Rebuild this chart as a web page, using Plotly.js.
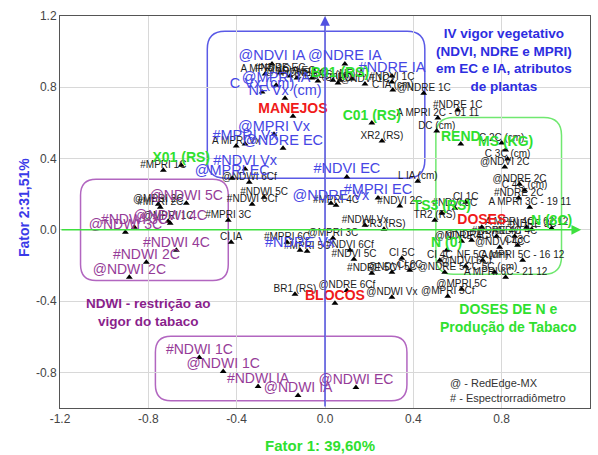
<!DOCTYPE html>
<html>
<head>
<meta charset="utf-8">
<script src="https://cdn.plot.ly/plotly-3.0.1.min.js"></script>
<style>
  html, body { margin: 0; padding: 0; background: #ffffff; }
  #chart { width: 598px; height: 455px; }
</style>
</head>
<body>
<div id="chart"></div>
<script>
// Factor loadings (Fator 1 x Fator 2) for the measured variables.
// Black labels: plant attributes and sensor indices.
const blackLabels = [
  "#MPRI 1C", "A MPRI Vx", "@MPRI 2C", "#MPRI 2C", "@MPRI 1C", "#MPRI 3C", "CI IA",
  "@NDWI 6Cf", "#NDWI 5C", "#NDWI 6Cf",
  "A MPRI 1C", "#NDRE EC", "@NDVI EC", "#NDVI IA", "NF EC", "C EC (cm)", "L EC (cm)",
  "CI EC", "NF IA", "@NDVI 1C", "#NDVI 1C", "C IA (cm)",
  "@NDRE 1C", "#NDRE 1C", "A MPRI 2C - 01 11", "DC (cm)", "XR2 (RS)", "L IA (cm)",
  "C 2C (cm)", "C 3C (cm)", "@NDVI 2C", "@NDRE 2C", "C 4C (cm)", "#NDRE 2C", "CI 1C",
  "A MPRI 3C - 19 11", "#NDVI 3C", "TR2 (RS)", "A MPRI 4C - 02 12", "NF 5C (cm)",
  "A MPRI 5C - 16 12", "A MPRI 6C - 21 12", "@NDRE 4C", "#NDRE 4C", "#NDVI 4C",
  "@NDVI 4C", "C 5C (cm)", "@NDRE 3C", "#NDRE 3C", "CI 3C",
  "#MPRI 6C", "#MPRI 5C", "@MPRI 3C", "#NDVI 6Cf", "#NDVI 5C", "CI 5C", "CI 4C",
  "#NDRE 5C", "@NDVI 5C", "CI 6C", "@NDRE 5C", "@NDVI 6Cf", "@MPRI 5C", "@MPRI 5Cf",
  "@NDWI Vx", "BR1 (RS)", "@NDRE 6Cf", "#NDWI Vx", "CR3 (RS)", "#MPRI 4C", "#NDVI 2C"
];
const blackX = [
  -0.732, -0.402, -0.755, -0.746, -0.710, -0.438, -0.425,
  -0.343, -0.276, -0.330,
  -0.271, -0.203, -0.158, -0.127, -0.059, -0.032, 0.036,
  0.059, 0.122, 0.181, 0.303, 0.307,
  0.447, 0.601, 0.511, 0.506, 0.258, 0.420,
  0.800, 0.827, 0.814, 0.881, 0.904, 0.877, 0.637,
  0.927, 0.588, 0.497, 0.913, 0.714,
  0.895, 0.818, 0.619, 0.777, 0.859,
  0.791, 0.768, 0.664, 0.936, 0.872,
  -0.172, -0.081, 0.036, 0.113, 0.131, 0.348, 0.520,
  0.212, 0.303, 0.384, 0.542, 0.637, 0.619, 0.556,
  0.303, -0.136, 0.099, 0.181, 0.267, 0.050, 0.339
];
const blackY = [
  0.335, 0.470, 0.144, 0.127, 0.048, 0.054, -0.070,
  0.267, 0.183, 0.144,
  0.874, 0.880, 0.863, 0.852, 0.852, 0.835, 0.840,
  0.824, 0.846, 0.818, 0.829, 0.784,
  0.767, 0.672, 0.627, 0.554, 0.498, 0.273,
  0.487, 0.397, 0.352, 0.256, 0.222, 0.178, 0.155,
  0.127, 0.121, 0.054, 0.015, -0.171,
  -0.171, -0.266, -0.064, -0.036, -0.036,
  -0.098, -0.238, -0.058, 0.003, -0.087,
  -0.070, -0.120, -0.047, -0.115, -0.165, -0.160, -0.171,
  -0.244, -0.238, -0.227, -0.238, -0.204, -0.334, -0.373,
  -0.379, -0.362, -0.340, 0.026, 0.003, 0.138, 0.133
];

// Vegetative vigour indices (blue group)
const blueLabels = [
  "@NDVI IA", "@NDRE IA", "#NDRE IA", "@MPRI IA", "C Vx (cm)", "NF Vx (cm)",
  "@MPRI Vx", "#MPRI Vx", "@NDRE EC", "#NDVI Vx", "@MPRI EC",
  "#NDVI EC", "#MPRI EC", "@NDRE Vx", "#NDRE Vx"
];
const blueX = [
  -0.240, 0.090, 0.303, -0.221, -0.285, -0.181,
  -0.231, -0.362, -0.190, -0.362, -0.420,
  0.099, 0.240, 0.027, -0.113
];
const blueY = [
  0.930, 0.930, 0.863, 0.812, 0.773, 0.739,
  0.537, 0.481, 0.458, 0.341, 0.290,
  0.296, 0.178, 0.149, -0.115
];

// NDWI group (purple)
const purpleLabels = [
  "@NDWI 2C", "#NDWI 2C", "#NDWI 4C", "@NDWI 3C", "#NDWI 3C", "@NDWI 4C", "@NDWI 5C",
  "#NDWI 1C", "@NDWI 1C", "#NDWI IA", "@NDWI IA", "@NDWI EC"
];
const purpleX = [
  -0.886, -0.809, -0.673, -0.904, -0.863, -0.701, -0.628,
  -0.569, -0.461, -0.303, -0.122, 0.140
];
const purpleY = [
  -0.266, -0.182, -0.115, -0.013, 0.015, 0.037, 0.149,
  -0.717, -0.795, -0.880, -0.930, -0.885
];

// Experimental factors (red)
const redLabels = ["MANEJOS", "BLOCOS", "DOSES"];
const redX = [-0.145, 0.045, 0.710];
const redY = [0.638, -0.412, 0.015];

// Yield and supplementary variables (green)
const greenLabels = ["C01 (RS)", "X01 (RS)", "B01 (RS)", "REND", "MS (KG)", "TS3 (RS)", "N (0)", "N (8C)"];
const greenX = [0.212, -0.651, 0.068, 0.615, 0.818, 0.529, 0.551, 1.026];
const greenY = [0.599, 0.363, 0.840, 0.481, 0.448, 0.094, -0.115, 0.009];

// Axis ticks
const xTickVals = [-1.2, -0.8, -0.4, 0, 0.4, 0.8, 1.2];
const xTickText = ["-1.2", "-0.8", "-0.4", "0.0", "0.4", "0.8", "1.2"];
const yTickVals = [-0.8, -0.4, 0, 0.4, 0.8, 1.2];
const yTickText = ["-0.8", "-0.4", "0.0", "0.4", "0.8", "1.2"];

const FONT = "Liberation Sans, Arial, sans-serif";
const BLUE = "#4646e4";
const PURPLE = "#963c98";
const GREEN = "#2fe02f";
const RED = "#f01a1a";

// Triangle markers for one group of variables
function points(xs, ys) {
  return {
    type: "scatter", mode: "markers", x: xs, y: ys,
    cliponaxis: false, hoverinfo: "skip",
    marker: { symbol: "triangle-up", size: 6, color: "#000000" }
  };
}

// Labels sitting just above each triangle
function labels(names, xs, ys, color, size, weight) {
  return {
    type: "scatter", mode: "text", x: xs, y: ys, text: names,
    textposition: "top center",
    cliponaxis: false, hoverinfo: "skip",
    textfont: { family: FONT, size: size, color: color, weight: weight }
  };
}

const traces = [
  points(blackX, blackY),
  points(blueX, blueY),
  points(purpleX, purpleY),
  points(greenX, greenY),
  points(redX, redY),
  labels(blackLabels, blackX, blackY, "#1c1c1c", 10, "normal"),
  labels(blueLabels, blueX, blueY, BLUE, 14.5, "normal"),
  labels(purpleLabels, purpleX, purpleY, PURPLE, 14, "normal"),
  labels(greenLabels, greenX, greenY, GREEN, 14, "bold"),
  labels(redLabels, redX, redY, RED, 14, "bold")
];

// Rounded rectangle outline in data units
function roundRect(x0, x1, y0, y1, rx, ry, color) {
  const p = [
    "M", x0 + rx, y1,
    "L", x1 - rx, y1,
    "Q", x1, y1, x1, y1 - ry,
    "L", x1, y0 + ry,
    "Q", x1, y0, x1 - rx, y0,
    "L", x0 + rx, y0,
    "Q", x0, y0, x0, y0 + ry,
    "L", x0, y1 - ry,
    "Q", x0, y1, x0 + rx, y1, "Z"
  ].join(" ");
  return { type: "path", path: p, xref: "x", yref: "y", line: { color: color, width: 1.5 }, layer: "below" };
}

const shapes = [
  roundRect(-0.533, 0.452, 0.290, 1.114, 0.08, 0.10, "#5a5ae6"),
  roundRect(-1.107, -0.438, -0.284, 0.284, 0.07, 0.09, "#b266c0"),
  roundRect(-0.768, 0.371, -0.960, -0.597, 0.07, 0.09, "#b266c0"),
  roundRect(0.502, 1.071, -0.250, 0.631, 0.08, 0.10, "#70e870")
];

const annotations = [
  // factor axes through the origin
  { x: 0, y: 1.2, ax: 0, ay: -1.0, xref: "x", yref: "y", axref: "x", ayref: "y",
    showarrow: true, arrowhead: 2, arrowsize: 1.3, arrowwidth: 1.5, arrowcolor: "#5050e0", text: "" },
  { x: 1.16, y: 0, ax: -1.2, ay: 0, xref: "x", yref: "y", axref: "x", ayref: "y",
    showarrow: true, arrowhead: 2, arrowsize: 1.3, arrowwidth: 1.5, arrowcolor: "#3ee03e", text: "" },
  // group descriptions
  { x: 0.809, y: 0.955, xref: "x", yref: "y", showarrow: false, align: "center",
    text: "IV vigor vegetativo<br>(NDVI, NDRE e MPRI)<br>em EC e IA, atributos<br>de plantas",
    font: { family: FONT, size: 13.5, color: "#2d2de0", weight: "bold" } },
  { x: -0.80, y: -0.462, xref: "x", yref: "y", showarrow: false, align: "center",
    text: "NDWI - restrição ao<br>vigor do tabaco",
    font: { family: FONT, size: 13.5, color: "#8a1f8c", weight: "bold" } },
  { x: 0.832, y: -0.496, xref: "x", yref: "y", showarrow: false, align: "center",
    text: "DOSES DE N e<br>Produção de Tabaco",
    font: { family: FONT, size: 14, color: GREEN, weight: "bold" } },
  // symbol key
  { x: 0.556, y: -0.858, xref: "x", yref: "y", showarrow: false, xanchor: "left",
    text: "@ - RedEdge-MX", font: { family: FONT, size: 11, color: "#333333" } },
  { x: 0.556, y: -0.943, xref: "x", yref: "y", showarrow: false, xanchor: "left",
    text: "# - Espectrorradiômetro", font: { family: FONT, size: 11, color: "#333333" } },
  // axis titles
  { x: 0.49, y: 0, xref: "paper", yref: "paper", yanchor: "top", yshift: -27, showarrow: false,
    text: "Fator 1: 39,60%", font: { family: FONT, size: 15, color: GREEN, weight: "bold" } },
  { x: 0, y: 0.51, xref: "paper", yref: "paper", xshift: -46, textangle: -90, showarrow: false,
    text: "Fator 2:31,51%", font: { family: FONT, size: 14, color: "#3a3ae8", weight: "bold" } }
];

const layout = {
  width: 598, height: 455,
  margin: { l: 60, r: 8, t: 16, b: 47 },
  paper_bgcolor: "#ffffff", plot_bgcolor: "#ffffff",
  showlegend: false,
  hovermode: false,
  xaxis: {
    range: [-1.2, 1.2], tickvals: xTickVals, ticktext: xTickText,
    showgrid: true, gridcolor: "#d8d8d8", zeroline: false,
    showline: true, mirror: true, linecolor: "#555555", linewidth: 1,
    ticks: "", tickfont: { family: FONT, size: 12, color: "#444444" }
  },
  yaxis: {
    range: [-1.0, 1.2], tickvals: yTickVals, ticktext: yTickText,
    showgrid: true, gridcolor: "#d8d8d8", zeroline: false,
    showline: true, mirror: true, linecolor: "#555555", linewidth: 1,
    ticks: "", tickfont: { family: FONT, size: 12, color: "#444444" }
  },
  shapes: shapes,
  annotations: annotations
};

Plotly.newPlot("chart", traces, layout, { staticPlot: true, displayModeBar: false });
</script>
</body>
</html>
